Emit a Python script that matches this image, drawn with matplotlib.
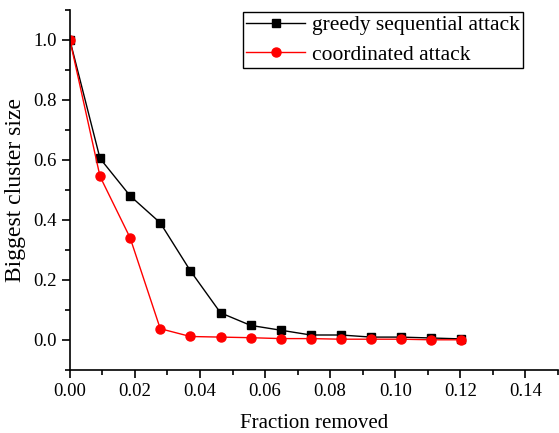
import matplotlib
matplotlib.use('Agg')
import matplotlib.pyplot as plt
from matplotlib.ticker import MultipleLocator

# fraction of nodes removed (step of 1/108)
fraction = [0.0, 0.00926, 0.01852, 0.02778, 0.03704, 0.04630, 0.05556,
            0.06481, 0.07407, 0.08333, 0.09259, 0.10185, 0.11111, 0.12037]
greedy = [1.0, 0.605, 0.48, 0.39, 0.23, 0.09, 0.048,
          0.032, 0.016, 0.016, 0.009, 0.009, 0.006, 0.003]
coordinated = [1.0, 0.545, 0.34, 0.037, 0.011, 0.009, 0.007,
               0.004, 0.004, 0.002, 0.002, 0.002, 0.0, 0.0]

plt.rcParams['font.family'] = ['Liberation Serif', 'DejaVu Serif']

fig = plt.figure(figsize=(5.59, 4.33), dpi=100)
ax = fig.add_axes([0.125, 0.146, 0.873, 0.831])

ax.plot(fraction, greedy, color='black', marker='s', markersize=6, linewidth=1,
        label='greedy sequential attack')
ax.plot(fraction, coordinated, color='red', marker='o', markersize=6.5, linewidth=1,
        label='coordinated attack')

ax.set_xlim(0, 0.15)
ax.set_ylim(-0.1, 1.1)
ax.xaxis.set_minor_locator(MultipleLocator(0.01))
ax.yaxis.set_minor_locator(MultipleLocator(0.1))
ax.set_xticks([0, 0.02, 0.04, 0.06, 0.08, 0.10, 0.12, 0.14])
ax.set_xticklabels(['0.00', '0.02', '0.04', '0.06', '0.08', '0.10', '0.12', '0.14'])
ax.set_yticks([0.0, 0.2, 0.4, 0.6, 0.8, 1.0])
ax.set_yticklabels(['0.0', '0.2', '0.4', '0.6', '0.8', '1.0'])

for side in ('top', 'right'):
    ax.spines[side].set_visible(False)
ax.spines['left'].set_linewidth(1.2)
ax.spines['bottom'].set_linewidth(1.2)
ax.tick_params(which='major', direction='out', length=6, width=1.2, labelsize=13.5)
ax.tick_params(which='minor', direction='out', length=3.5, width=1.2)

ax.set_xlabel('Fraction removed', fontsize=15, labelpad=10)
ax.set_ylabel('Biggest cluster size', fontsize=17, labelpad=5)

# legend: square black frame in the upper right
leg = ax.legend(loc='upper right', bbox_to_anchor=(0.929, 0.995), borderaxespad=0,
                fontsize=15.5, fancybox=False, edgecolor='black', framealpha=1,
                handlelength=2.7, borderpad=0.15, labelspacing=0.45, handletextpad=0.35)
leg.get_frame().set_linewidth(1.0)

fig.savefig('out.png', dpi=100)
